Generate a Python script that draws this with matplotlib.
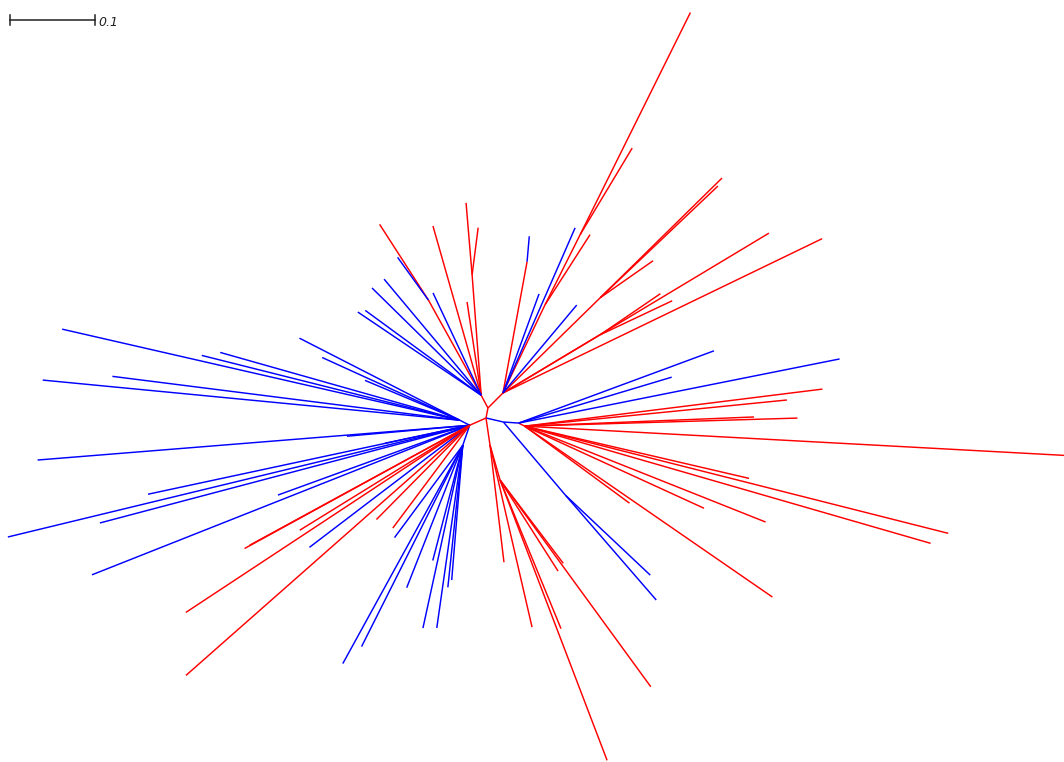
import numpy as np
import matplotlib
matplotlib.use("Agg")
import matplotlib.pyplot as plt

# unrooted tree, equal-angle layout
# each branch: (angle in degrees, branch length, colour); parent given by the group
RED = "#ff0000"
BLUE = "#0000ff"

# internal nodes: name -> (parent, angle, length, colour)
internal = {
    "T":   ("root", 79, 0.012, RED),
    "UL":  ("T", 118, 0.017, RED),
    "UR":  ("T", 45, 0.025, RED),
    "L":   ("root", 204, 0.021, RED),
    "LB":  ("L", 153, 0.013, BLUE),
    "LD":  ("L", 251, 0.025, BLUE),
    "Rt":  ("root", -13, 0.021, BLUE),
    "RR":  ("Rt", -4, 0.018, BLUE),
    "RRr": ("RR", -27, 0.008, RED),
    "BD":  ("Rt", -49.7, 0.113, BLUE),
    "D":   ("root", -81.6, 0.032, RED),
    "D2":  ("D", -74, 0.043, RED),
    "UR1": ("UR", 64.5, 0.115, RED),
    "UR2": ("UR1", 63.4, 0.092, RED),
    "URb": ("UR", 79.6, 0.157, RED),
    "URc": ("UR", 44.4, 0.160, RED),
    "URd": ("UR", 30.9, 0.133, RED),
    "ULa": ("UL", 119, 0.128, RED),
    "ULv": ("UL", 94.3, 0.142, RED),
}

leaves_UR = [(31, 0.365, RED), (25.8, 0.417, RED), (66.4, 0.212, BLUE),
             (70, 0.124, BLUE), (50, 0.135, BLUE)]
leaves_UR1 = [(57.3, 0.098, RED)]
leaves_UR2 = [(63.6, 0.292, RED), (59, 0.119, RED)]
leaves_URb = [(85, 0.030, BLUE)]
leaves_URc = [(44.5, 0.201, RED), (43.5, 0.191, RED), (35, 0.076, RED)]
leaves_URd = [(34.3, 0.086, RED), (25.3, 0.094, RED)]

leaves_UL = [(105.9, 0.207, RED), (98.6, 0.111, RED), (129.9, 0.178, BLUE),
             (135.5, 0.180, BLUE), (146, 0.175, BLUE), (143.8, 0.169, BLUE),
             (115.2, 0.133, BLUE)]
leaves_ULa = [(122.8, 0.106, RED), (125.8, 0.062, BLUE)]
leaves_ULv = [(94.8, 0.085, RED), (82.7, 0.056, RED)]

leaves_LB = [(167.1, 0.480, BLUE), (174.5, 0.493, BLUE), (172.8, 0.412, BLUE),
             (165.9, 0.313, BLUE), (164.2, 0.293, BLUE), (152.9, 0.212, BLUE),
             (155.5, 0.178, BLUE), (157.2, 0.121, BLUE)]

leaves_L = [(184.6, 0.510, BLUE), (185.1, 0.145, BLUE), (192, 0.102, BLUE),
            (193.6, 0.559, BLUE), (194.8, 0.450, BLUE), (192.1, 0.387, BLUE),
            (200, 0.240, BLUE), (201.6, 0.478, BLUE), (217.3, 0.237, BLUE),
            (208.7, 0.302, RED), (208.6, 0.295, RED), (211.7, 0.235, RED),
            (225.3, 0.156, RED), (233.2, 0.151, RED), (213.4, 0.400, RED),
            (221.4, 0.445, RED)]

leaves_LD = [(241.2, 0.293, BLUE), (243.3, 0.265, BLUE), (248.5, 0.180, BLUE),
             (257.7, 0.220, BLUE), (261.9, 0.217, BLUE), (264, 0.168, BLUE),
             (265.3, 0.159, BLUE), (255.4, 0.140, BLUE), (233.5, 0.135, BLUE)]

leaves_RR = [(20.3, 0.245, BLUE), (16.7, 0.188, BLUE), (11.3, 0.385, BLUE)]

leaves_RRr = [(-3.1, 0.636, RED), (7.1, 0.353, RED), (5.7, 0.310, RED),
              (1.7, 0.321, RED), (2.3, 0.270, RED), (-14.2, 0.514, RED),
              (-16.1, 0.497, RED), (-34.6, 0.354, RED), (-21.7, 0.305, RED),
              (-24.6, 0.232, RED), (-13.1, 0.271, RED), (-36.3, 0.153, RED)]

leaves_BD = [(-43.3, 0.137, BLUE), (-49.1, 0.163, BLUE)]
leaves_D = [(-83.2, 0.139, RED), (-77, 0.220, RED)]
leaves_D2 = [(-57.5, 0.127, RED), (-52.8, 0.123, RED), (-67.7, 0.189, RED),
             (-53.9, 0.301, RED), (-69.1, 0.353, RED)]

leaf_groups = {
    "UR": leaves_UR, "UR1": leaves_UR1, "UR2": leaves_UR2, "URb": leaves_URb,
    "URc": leaves_URc, "URd": leaves_URd, "UL": leaves_UL, "ULa": leaves_ULa,
    "ULv": leaves_ULv, "LB": leaves_LB, "L": leaves_L, "LD": leaves_LD,
    "RR": leaves_RR, "RRr": leaves_RRr, "BD": leaves_BD, "D": leaves_D,
    "D2": leaves_D2,
}

scale_len = 0.1


def step(x, y, ang, length):
    a = np.deg2rad(ang)
    return x + length * np.cos(a), y + length * np.sin(a)


# place internal nodes (dict is ordered parent-first)
pos = {"root": (0.0, 0.0)}
segments = []
for name, (par, ang, ln, col) in internal.items():
    x0, y0 = pos[par]
    x1, y1 = step(x0, y0, ang, ln)
    pos[name] = (x1, y1)
    segments.append(((x0, y0), (x1, y1), col))

for par, leaves in leaf_groups.items():
    x0, y0 = pos[par]
    for ang, ln, col in leaves:
        x1, y1 = step(x0, y0, ang, ln)
        segments.append(((x0, y0), (x1, y1), col))

W, H = 1064, 762
ppu = 850.0  # pixels per tree unit
fig = plt.figure(figsize=(W / 100, H / 100), dpi=100)
ax = fig.add_axes([0, 0, 1, 1])
ax.set_xlim(-486 / ppu, (W - 486) / ppu)
ax.set_ylim(-(H - 418) / ppu, 418 / ppu)
ax.axis("off")

for (x0, y0), (x1, y1), col in segments:
    ax.plot([x0, x1], [y0, y1], color=col, lw=1.05, solid_capstyle="butt")

# scale bar
xmin, xmax = ax.get_xlim()
ymin, ymax = ax.get_ylim()
sx = xmin + 10 / ppu
sy = ymax - 20 / ppu
tick = 5 / ppu
ax.plot([sx, sx + scale_len], [sy, sy], color="#222222", lw=1.1)
ax.plot([sx, sx], [sy - tick, sy + tick], color="#222222", lw=1.1)
ax.plot([sx + scale_len, sx + scale_len], [sy - tick, sy + tick], color="#222222", lw=1.1)
ax.text(sx + scale_len + 3 / ppu, sy - 3 / ppu, "0.1", fontsize=9, style="italic",
        va="center", ha="left", color="#222222")

fig.savefig("out.png", dpi=100, facecolor="white")
